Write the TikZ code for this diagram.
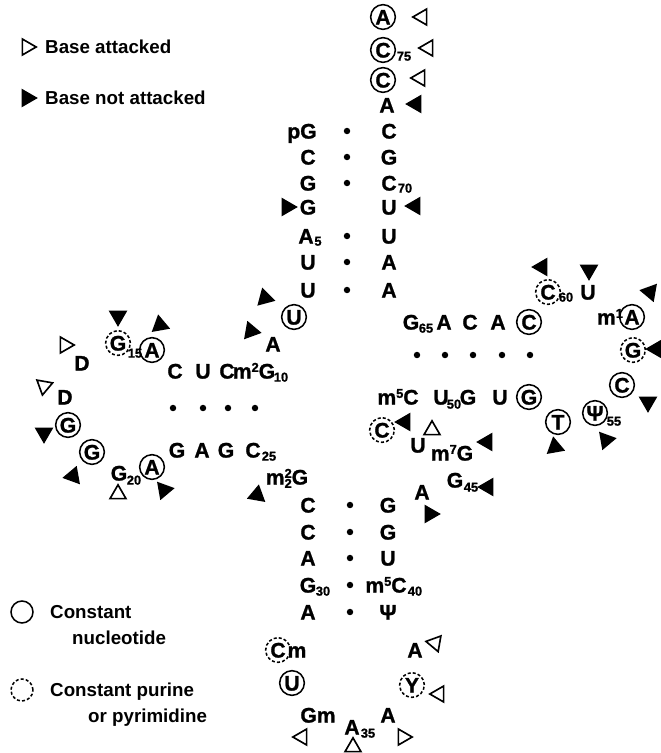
\documentclass[tikz,border=0pt]{standalone}
\usepackage{fontspec}
\usetikzlibrary{shapes.geometric}
\newfontfamily\rnafont{Liberation Sans}[BoldFeatures={FakeBold=1.2}]
\newfontfamily\keyfamily{Liberation Sans}
\newcommand\nucfont{\rnafont\bfseries\fontsize{18}{20}\selectfont}
\newcommand\ixfont{\rnafont\bfseries\fontsize{11}{12}\selectfont}
\newcommand\keyfont{\keyfamily\bfseries\fontsize{16}{18}\selectfont}
\newcommand\subx[1]{\raisebox{-0.3ex}{\ixfont #1}}
\newcommand\supx[1]{\raisebox{0.6ex}{\ixfont #1}}
\tikzset{
  nt/.style={font=\nucfont,inner sep=0pt,text height=12.9pt,text depth=0pt},
  constnt/.style={nt,circle,draw,line width=1.3pt,minimum size=0.74cm},
  purpyr/.style={constnt,dash pattern=on 2.6pt off 1.8pt},
  num/.style={font=\ixfont,inner sep=0pt,text height=7.9pt,text depth=0pt},
  hit/.style={regular polygon,regular polygon sides=3,draw,line width=1.4pt,
    minimum size=0.55cm,inner sep=0pt,rotate=#1},
  miss/.style={hit=#1,fill},
  pair/.style={circle,fill,inner sep=0pt,minimum size=5.5pt},
  keytext/.style={font=\keyfont,anchor=west,inner sep=0pt,text height=11.5pt,text depth=0pt}
}
\begin{document}
\begin{tikzpicture}[x=0.03cm,y=-0.03cm]
\useasboundingbox (0,0) rectangle (660,753);

% key
\node[hit=-90] (kopen) at (27,47) {};
\node[keytext] (kopentxt) at (45,47) {Base attacked};
\node[miss=-90] (kfull) at (27,98) {};
\node[keytext] (kfulltxt) at (45,98) {Base not attacked};
\node[constnt,minimum size=0.66cm] (kcirc) at (22,612) {};
\node[keytext] (kcirctxt) at (50,612) {Constant};
\node[keytext] (kcirctxtb) at (72,638) {nucleotide};
\node[purpyr,minimum size=0.66cm] (kdash) at (22,690) {};
\node[keytext] (kdashtxt) at (50,690) {Constant purine};
\node[keytext] (kdashtxtb) at (88,716) {or pyrimidine};

% acceptor end
\node[constnt] (n76) at (383,17) {A};
\node[hit=90] (t76) at (422,17) {};
\node[constnt] (n75) at (383,50) {C};
\node[num] (n75i) at (404,56) {75};
\node[hit=90] (t75) at (428,48) {};
\node[constnt] (n74) at (383,80) {C};
\node[hit=90] (t74) at (420,78) {};
\node[nt] (n73) at (387,105) {A};
\node[miss=90] (t73) at (416,104) {};

% acceptor stem
\node[nt] (n1) at (302,131) {pG};
\node[pair] (p1) at (347,131) {};
\node[nt] (n72) at (389,131) {C};
\node[nt] (n2) at (308,157) {C};
\node[pair] (p2) at (347,157) {};
\node[nt] (n71) at (389,157) {G};
\node[nt] (n3) at (308,183) {G};
\node[pair] (p3) at (347,183) {};
\node[nt] (n70) at (389,183) {C};
\node[num] (n70i) at (405,188) {70};
\node[miss=-90] (t4) at (287,207) {};
\node[nt] (n4) at (308,207) {G};
\node[nt] (n69) at (389,207) {U};
\node[miss=90] (t69) at (415,206) {};
\node[nt] (n5) at (306,236) {A};
\node[num] (n5i) at (318,241) {5};
\node[pair] (p5) at (347,236) {};
\node[nt] (n68) at (389,236) {U};
\node[nt] (n6) at (308,262) {U};
\node[pair] (p6) at (347,262) {};
\node[nt] (n67) at (389,262) {A};
\node[nt] (n7) at (308,290) {U};
\node[pair] (p7) at (347,290) {};
\node[nt] (n66) at (389,290) {A};

% D arm
\node[miss=15] (t8) at (265,298) {};
\node[constnt] (n8) at (294,317) {U};
\node[miss=20] (t9) at (251,331) {};
\node[nt] (n9) at (273,344) {A};
\node[nt] (n13) at (175,371) {C};
\node[nt] (n12) at (203,371) {U};
\node[nt] (n11) at (227,371) {C};
\node[nt] (n10) at (254,371) {m\supx{2}G};
\node[num] (n10i) at (281,377) {10};
\node[pair] (p13) at (173,408) {};
\node[pair] (p12) at (203,408) {};
\node[pair] (p11) at (228,408) {};
\node[pair] (p10) at (255,408) {};
\node[nt] (n22) at (177,450) {G};
\node[nt] (n23) at (202,450) {A};
\node[nt] (n24) at (226,450) {G};
\node[nt] (n25) at (253,450) {C};
\node[num] (n25i) at (269,456) {25};
\node[nt] (n26) at (287,477) {m\rlap{\supx{2}}\subx{2}G};
\node[miss=110] (t26) at (257,495) {};

% D loop
\node[constnt] (n14) at (152,350) {A};
\node[miss=-110] (t14) at (160,325) {};
\node[purpyr] (n15) at (118,343) {G};
\node[num] (n15i) at (135,353) {15};
\node[miss=180] (t15) at (118,316) {};
\node[nt] (n16) at (82,363) {D};
\node[hit=30] (t16) at (65,345) {};
\node[nt] (n17) at (65,397) {D};
\node[hit=-70] (t17) at (44,386) {};
\node[constnt] (n18) at (68,425) {G};
\node[miss=-60] (t18) at (44,433) {};
\node[constnt] (n19) at (92,452) {G};
\node[miss=100] (t19) at (73,476) {};
\node[nt] (n20) at (119,473) {G};
\node[num] (n20i) at (134,480) {20};
\node[hit=0] (t20) at (118,494) {};
\node[constnt] (n21) at (152,467) {A};
\node[miss=-80] (t21) at (164,490) {};

% anticodon stem
\node[nt] (n27) at (308,505) {C};
\node[pair] (p27) at (350,505) {};
\node[nt] (n43) at (388,505) {G};
\node[nt] (n28) at (308,532) {C};
\node[pair] (p28) at (350,532) {};
\node[nt] (n42) at (388,532) {G};
\node[nt] (n29) at (308,558) {A};
\node[pair] (p29) at (350,558) {};
\node[nt] (n41) at (388,558) {U};
\node[nt] (n30) at (308,585) {G};
\node[num] (n30i) at (323,591) {30};
\node[pair] (p30) at (350,585) {};
\node[nt] (n40) at (386,585) {m\supx{5}C};
\node[num] (n40i) at (415,591) {40};
\node[nt] (n31) at (308,612) {A};
\node[pair] (p31) at (350,612) {};
\node[nt] (n39) at (388,612) {Ψ};

% anticodon loop
\node[purpyr] (n32) at (278,650) {C};
\node[nt] (n32x) at (297,650) {m};
\node[constnt] (n33) at (292,683) {U};
\node[nt] (n34) at (318,715) {Gm};
\node[hit=90] (t34) at (302,737) {};
\node[nt] (n35) at (352,727) {A};
\node[num] (n35i) at (368,733) {35};
\node[hit=0] (t35) at (353,747) {};
\node[nt] (n36) at (388,715) {A};
\node[hit=-90] (t36) at (403,737) {};
\node[purpyr] (n37) at (412,685) {Y};
\node[hit=90] (t37) at (439,694) {};
\node[nt] (n38) at (415,650) {A};
\node[hit=80] (t38) at (435,643) {};

% extra arm
\node[nt] (n44) at (422,492) {A};
\node[miss=-90] (t44) at (430,514) {};
\node[nt] (n45) at (455,480) {G};
\node[num] (n45i) at (471,487) {45};
\node[miss=90] (t45) at (488,487) {};
\node[nt] (n46) at (452,453) {m\supx{7}G};
\node[miss=90] (t46) at (487,442) {};
\node[nt] (n47) at (418,445) {U};
\node[hit=0] (t47) at (432,430) {};
\node[purpyr] (n48) at (382,430) {C};
\node[miss=90] (t48) at (405,422) {};

% T stem
\node[nt] (n65) at (411,322) {G};
\node[num] (n65i) at (426,328) {65};
\node[nt] (n64) at (444,322) {A};
\node[nt] (n63) at (470,322) {C};
\node[nt] (n62) at (498,322) {A};
\node[constnt] (n61) at (529,322) {C};
\node[pair] (p49) at (417,355) {};
\node[pair] (p50) at (445,355) {};
\node[pair] (p51) at (473,355) {};
\node[pair] (p52) at (502,355) {};
\node[pair] (p53) at (530,355) {};
\node[nt] (n49) at (398,397) {m\supx{5}C};
\node[nt] (n50) at (441,397) {U};
\node[num] (n50i) at (454,404) {50};
\node[nt] (n51) at (468,397) {G};
\node[nt] (n52) at (500,397) {U};
\node[constnt] (n53) at (529,397) {G};

% T loop
\node[purpyr] (n60) at (548,292) {C};
\node[num] (n60i) at (566,297) {60};
\node[miss=-150] (t60) at (542,267) {};
\node[nt] (n59) at (588,292) {U};
\node[miss=180] (t59) at (589,270) {};
\node[nt] (n58x) at (610,317) {m\supx{1}};
\node[constnt] (n58) at (632,317) {A};
\node[miss=-40] (t58) at (650,292) {};
\node[purpyr] (n57) at (633,350) {G};
\node[miss=90] (t57) at (656,349) {};
\node[constnt] (n56) at (622,385) {C};
\node[miss=180] (t56) at (648,402) {};
\node[constnt] (n55) at (595,413) {Ψ};
\node[num] (n55i) at (614,421) {55};
\node[miss=-80] (t55) at (606,440) {};
\node[constnt] (n54) at (558,422) {T};
\node[miss=10] (t54) at (555,447) {};
\end{tikzpicture}
\end{document}
